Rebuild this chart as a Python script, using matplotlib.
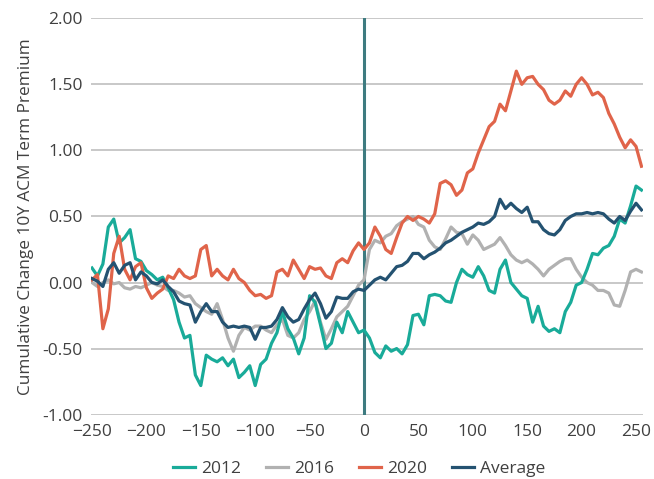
import numpy as np
import matplotlib.pyplot as plt

# Days relative to event
days = np.arange(-250, 256, 5)

y2012 = [0.11, 0.05, 0.14, 0.42, 0.48, 0.30, 0.34, 0.40, 0.18, 0.16,
         0.09, 0.06, 0.02, 0.04, -0.04, -0.13, -0.30, -0.42, -0.40, -0.70,
         -0.78, -0.55, -0.58, -0.60, -0.57, -0.63, -0.58, -0.72, -0.68, -0.63,
         -0.78, -0.62, -0.58, -0.46, -0.38, -0.22, -0.35, -0.42, -0.54, -0.42,
         -0.10, -0.15, -0.32, -0.50, -0.46, -0.30, -0.38, -0.22, -0.30, -0.38,
         -0.36, -0.42, -0.53, -0.57, -0.48, -0.52, -0.50, -0.54, -0.47, -0.25,
         -0.24, -0.32, -0.10, -0.09, -0.10, -0.14, -0.15, 0.00, 0.10, 0.06,
         0.04, 0.12, 0.05, -0.06, -0.08, 0.10, 0.17, 0.00, -0.05, -0.10,
         -0.12, -0.30, -0.18, -0.33, -0.37, -0.35, -0.38, -0.22, -0.15, -0.02,
         0.00, 0.10, 0.22, 0.21, 0.26, 0.28, 0.35, 0.48, 0.45, 0.58,
         0.73, 0.70]

y2016 = [0.00, -0.03, 0.00, 0.02, -0.01, 0.00, -0.04, -0.05, -0.03, -0.04,
         -0.02, 0.00, -0.02, -0.03, -0.06, -0.06, -0.08, -0.11, -0.10, -0.16,
         -0.19, -0.22, -0.24, -0.16, -0.28, -0.42, -0.52, -0.40, -0.34, -0.36,
         -0.33, -0.33, -0.36, -0.38, -0.32, -0.28, -0.40, -0.42, -0.38, -0.28,
         -0.22, -0.14, -0.30, -0.43, -0.35, -0.26, -0.22, -0.18, -0.10, -0.02,
         0.02, 0.25, 0.32, 0.30, 0.35, 0.37, 0.43, 0.46, 0.48, 0.50,
         0.44, 0.42, 0.32, 0.27, 0.25, 0.33, 0.42, 0.38, 0.37, 0.29,
         0.36, 0.32, 0.25, 0.27, 0.29, 0.34, 0.28, 0.21, 0.17, 0.15,
         0.17, 0.14, 0.10, 0.05, 0.10, 0.13, 0.16, 0.18, 0.18, 0.10,
         0.04, 0.00, -0.02, -0.06, -0.06, -0.08, -0.17, -0.18, -0.06, 0.08,
         0.10, 0.08]

y2020 = [0.02, 0.06, -0.35, -0.20, 0.22, 0.35, 0.10, 0.02, 0.12, 0.15,
         -0.04, -0.12, -0.08, -0.05, 0.05, 0.03, 0.10, 0.05, 0.03, 0.05,
         0.25, 0.28, 0.05, 0.10, 0.05, 0.02, 0.10, 0.03, 0.00, -0.06,
         -0.10, -0.09, -0.12, -0.10, 0.08, 0.10, 0.05, 0.17, 0.10, 0.03,
         0.12, 0.10, 0.11, 0.05, 0.03, 0.15, 0.18, 0.15, 0.24, 0.30,
         0.25, 0.30, 0.42, 0.35, 0.25, 0.22, 0.34, 0.45, 0.50, 0.47,
         0.50, 0.48, 0.45, 0.52, 0.75, 0.77, 0.74, 0.66, 0.70, 0.83,
         0.86, 0.98, 1.08, 1.18, 1.22, 1.35, 1.30, 1.45, 1.60, 1.50,
         1.55, 1.56, 1.50, 1.46, 1.38, 1.35, 1.38, 1.45, 1.41, 1.50,
         1.55, 1.50, 1.42, 1.44, 1.40, 1.28, 1.20, 1.10, 1.02, 1.08,
         1.03, 0.88]

y_avg = [0.03, 0.01, -0.03, 0.10, 0.15, 0.07, 0.13, 0.15, 0.02, 0.08,
         0.05, 0.00, -0.01, 0.02, -0.03, -0.07, -0.14, -0.16, -0.17, -0.30,
         -0.22, -0.16, -0.22, -0.22, -0.30, -0.34, -0.33, -0.34, -0.33, -0.34,
         -0.43, -0.34, -0.34, -0.33, -0.28, -0.19, -0.26, -0.30, -0.28, -0.20,
         -0.13, -0.08, -0.16, -0.27, -0.22, -0.11, -0.12, -0.12, -0.07, -0.05,
         -0.06, -0.02, 0.02, 0.04, 0.02, 0.07, 0.12, 0.13, 0.16, 0.22,
         0.22, 0.18, 0.21, 0.23, 0.26, 0.30, 0.32, 0.35, 0.38, 0.40,
         0.42, 0.45, 0.44, 0.46, 0.50, 0.63, 0.56, 0.60, 0.56, 0.53,
         0.57, 0.46, 0.46, 0.40, 0.37, 0.36, 0.40, 0.47, 0.50, 0.52,
         0.52, 0.53, 0.52, 0.53, 0.52, 0.48, 0.45, 0.50, 0.47, 0.54,
         0.60, 0.55]

xticks = np.arange(-250, 251, 50)
yticks = np.arange(-1.0, 2.01, 0.5)

plt.rcParams['font.family'] = ['Open Sans', 'DejaVu Sans']
txt = '#404040'

fig = plt.figure(figsize=(6.54, 4.79), dpi=100)
ax = fig.add_axes([0.139, 0.1344, 0.8435, 0.8274])

for y in yticks:
    ax.axhline(y, color='#bfbfbf', lw=1.2, zorder=0)
ax.axvline(0, color='#3e7b80', lw=2.2, zorder=1)

ax.plot(days, y2012, color='#19ab99', lw=2.3, label='2012', zorder=3)
ax.plot(days, y2016, color='#b1b1b1', lw=2.3, label='2016', zorder=2)
ax.plot(days, y2020, color='#e0644a', lw=2.3, label='2020', zorder=4)
ax.plot(days, y_avg, color='#245271', lw=2.3, label='Average', zorder=5)

ax.set_xlim(-251, 256)
ax.set_ylim(-1.0, 2.0)
ax.set_xticks(xticks)
ax.set_yticks(yticks)
ax.set_yticklabels([f'{v:.2f}' for v in yticks])
for s in ax.spines.values():
    s.set_visible(False)
ax.tick_params(length=0, labelsize=12.5, colors=txt, pad=6)
ax.tick_params(axis='x', pad=7)
ax.set_ylabel('Cumulative Change 10Y ACM Term Premium', fontsize=12.4, color=txt, labelpad=6)

ax.legend(loc='center', bbox_to_anchor=(0.486, -0.137), ncol=4, frameon=False,
          fontsize=12.5, handlelength=1.26, columnspacing=1.45, handletextpad=0.35,
          labelcolor=txt)

fig.savefig('out.png', dpi=100)
